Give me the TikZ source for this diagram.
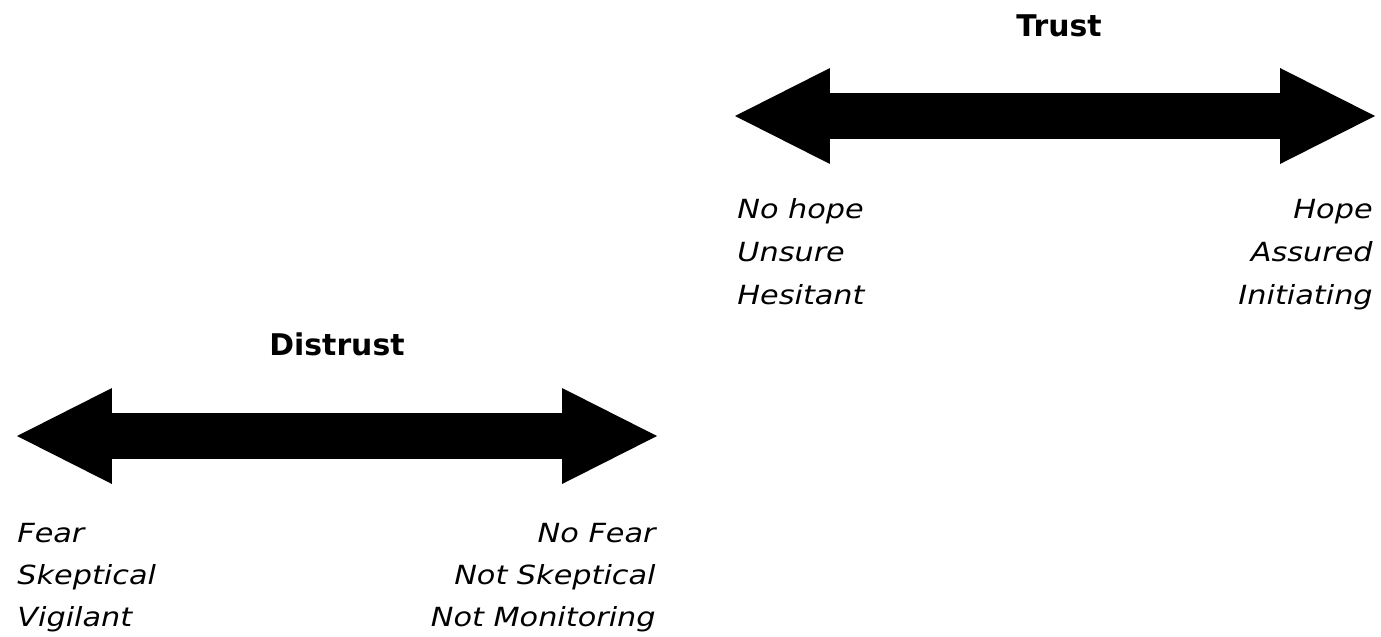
\documentclass[tikz,border=0pt]{standalone}
\usepackage{fontspec}
\usetikzlibrary{arrows.meta}
\newfontfamily\listfont[FakeStretch=1.15]{DejaVu Sans}
\newfontfamily\headfont{DejaVu Sans}

\tikzset{
  bigarrow/.style={line width=0.92cm,
    {Triangle[length=1.9cm,width=1.92cm,line width=0pt]}-{Triangle[length=1.9cm,width=1.92cm,line width=0pt]}},
  heading/.style={inner sep=0pt,anchor=base,font=\headfont\bfseries\fontsize{17}{20}\selectfont},
  lefttext/.style={inner sep=0pt,anchor=base west,font=\listfont\itshape\fontsize{15}{18}\selectfont},
  righttext/.style={inner sep=0pt,anchor=base east,font=\listfont\itshape\fontsize{15}{18}\selectfont}
}

\begin{document}
\begin{tikzpicture}[x=0.02cm,y=-0.02cm]
\useasboundingbox (0,0) rectangle (1381,636);

% trust
\node[heading] (trust) at (1059,36) {Trust};
\coordinate (tl) at (735,116);
\coordinate (tr) at (1375,116);
\draw[bigarrow] (tl) -- (tr);
\foreach \txt [count=\i] in {No hope,Unsure,Hesitant}
  \node[lefttext] (tleft\i) at (737,218+43*\i-43) {\txt};
\foreach \txt [count=\i] in {Hope,Assured,Initiating}
  \node[righttext] (tright\i) at (1373,218+43*\i-43) {\txt};

% distrust
\node[heading] (distrust) at (337,355) {Distrust};
\coordinate (dl) at (17,436);
\coordinate (dr) at (657,436);
\draw[bigarrow] (dl) -- (dr);
\foreach \txt [count=\i] in {Fear,Skeptical,Vigilant}
  \node[lefttext] (dleft\i) at (17,542+42*\i-42) {\txt};
\foreach \txt [count=\i] in {No Fear,Not Skeptical,Not Monitoring}
  \node[righttext] (dright\i) at (656,542+42*\i-42) {\txt};

\end{tikzpicture}
\end{document}
